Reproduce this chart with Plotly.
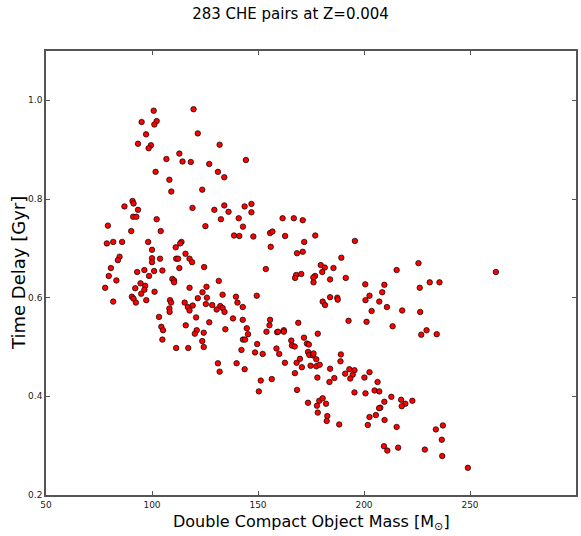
import plotly.graph_objects as go

# 双致密天体质量 [M_sun]
mass = [
    100.8, 95.1, 102.2, 101.1, 97.2, 93.4, 99.5, 98.4, 112.9, 106.8,
    114.4, 101.7, 108.2, 119.6, 121.6, 131.9, 118.3, 127.0, 144.3, 131.1,
    134.1, 123.7, 109.1, 90.8, 91.3, 87.0, 93.4, 91.1, 92.6, 102.2,
    79.2, 90.2, 104.1, 78.7, 81.7, 85.9, 98.2, 113.9, 113.3, 111.2,
    100.0, 115.8, 84.7, 83.9, 100.0, 103.8, 111.4, 112.3, 117.7, 100.0,
    80.6, 112.9, 96.4, 93.0, 101.0, 104.9, 79.6, 98.6, 83.2, 109.6,
    110.4, 110.4, 94.6, 96.8, 77.9, 92.1, 96.4, 117.7, 101.2, 94.9,
    90.5, 91.3, 92.4, 81.7, 97.3, 108.5, 109.0, 115.4, 116.9, 117.7,
    108.2, 108.3, 103.3, 115.9, 104.4, 105.2, 104.9, 111.4, 117.1, 119.1,
    129.4, 134.1, 136.1, 143.7, 146.9, 146.9, 132.5, 140.9, 125.2, 142.9,
    138.7, 141.2, 147.8, 161.6, 166.9, 171.1, 155.7, 156.8, 162.8, 177.0,
    171.8, 156.0, 168.4, 171.1, 118.9, 124.6, 153.7, 179.6, 181.5, 180.3,
    168.0, 170.4, 167.5, 176.9, 176.1, 176.2, 131.5, 125.7, 123.8, 133.3,
    121.6, 125.9, 139.6, 149.4, 119.2, 125.4, 128.4, 132.2, 133.3, 130.5,
    134.2, 140.3, 142.8, 120.8, 138.2, 142.8, 127.0, 121.1, 120.2, 124.4,
    134.6, 144.7, 145.3, 155.7, 155.4, 154.0, 159.0, 159.5, 162.2, 162.2,
    169.0, 178.2, 171.7, 165.7, 166.0, 167.3, 173.1, 174.0, 123.7, 124.4,
    142.9, 143.9, 149.6, 142.2, 158.7, 184.0, 184.0, 148.6, 152.2, 160.0,
    173.6, 174.2, 175.9, 176.2, 169.8, 177.5, 168.2, 162.7, 170.7, 174.8,
    177.5, 179.1, 167.4, 178.0, 184.0, 183.7, 131.1, 139.9, 143.7, 131.9,
    151.3, 156.5, 150.4, 168.4, 173.6, 177.8, 178.9, 180.5, 182.1, 178.2,
    182.7, 182.4, 195.7, 189.3, 185.6, 191.4, 225.7, 215.4, 200.6, 209.6,
    226.3, 231.0, 235.6, 187.4, 187.6, 180.5, 181.6, 202.6, 200.7, 208.6,
    207.2, 210.8, 203.6, 218.0, 226.5, 192.7, 201.2, 213.5, 229.5, 227.0,
    234.3, 189.1, 188.9, 191.1, 193.1, 195.5, 194.7, 193.5, 186.0, 200.2,
    202.6, 206.4, 195.5, 200.7, 205.0, 207.2, 212.9, 217.5, 219.5, 222.8,
    217.8, 209.6, 207.7, 207.1, 205.6, 202.6, 201.8, 209.7, 215.4, 188.3,
    209.4, 211.0, 216.1, 228.7, 233.9, 237.2, 236.7, 236.9, 249.0, 262.2,
]

# 延迟时间 [Gyr]
delay = [
    0.979, 0.956, 0.958, 0.951, 0.931, 0.912, 0.909, 0.903, 0.892, 0.881,
    0.876, 0.855, 0.839, 0.982, 0.933, 0.910, 0.875, 0.871, 0.879, 0.855,
    0.844, 0.819, 0.815, 0.796, 0.791, 0.785, 0.778, 0.764, 0.764, 0.759,
    0.746, 0.735, 0.735, 0.710, 0.713, 0.713, 0.713, 0.713, 0.710, 0.702,
    0.697, 0.689, 0.683, 0.676, 0.680, 0.679, 0.679, 0.679, 0.679, 0.672,
    0.660, 0.660, 0.656, 0.652, 0.654, 0.655, 0.644, 0.644, 0.635, 0.638,
    0.635, 0.631, 0.629, 0.624, 0.620, 0.619, 0.616, 0.620, 0.612, 0.608,
    0.602, 0.598, 0.590, 0.592, 0.595, 0.595, 0.590, 0.590, 0.581, 0.574,
    0.578, 0.571, 0.561, 0.544, 0.541, 0.534, 0.515, 0.498, 0.498, 0.782,
    0.778, 0.787, 0.774, 0.785, 0.790, 0.773, 0.759, 0.761, 0.745, 0.744,
    0.726, 0.725, 0.724, 0.761, 0.761, 0.757, 0.731, 0.734, 0.725, 0.726,
    0.713, 0.703, 0.690, 0.693, 0.672, 0.662, 0.658, 0.666, 0.661, 0.652,
    0.646, 0.648, 0.640, 0.644, 0.641, 0.631, 0.634, 0.622, 0.611, 0.606,
    0.599, 0.600, 0.602, 0.604, 0.584, 0.587, 0.585, 0.583, 0.579, 0.576,
    0.571, 0.590, 0.581, 0.560, 0.558, 0.555, 0.550, 0.534, 0.527, 0.529,
    0.536, 0.538, 0.526, 0.555, 0.544, 0.531, 0.530, 0.531, 0.534, 0.531,
    0.549, 0.527, 0.519, 0.513, 0.503, 0.501, 0.507, 0.505, 0.512, 0.500,
    0.515, 0.515, 0.506, 0.494, 0.497, 0.637, 0.601, 0.489, 0.486, 0.486,
    0.490, 0.484, 0.483, 0.487, 0.476, 0.475, 0.468, 0.468, 0.459, 0.462,
    0.461, 0.464, 0.447, 0.438, 0.456, 0.429, 0.467, 0.467, 0.455, 0.450,
    0.432, 0.435, 0.410, 0.413, 0.387, 0.381, 0.391, 0.396, 0.385, 0.367,
    0.360, 0.350, 0.715, 0.681, 0.660, 0.640, 0.670, 0.656, 0.627, 0.626,
    0.620, 0.631, 0.631, 0.600, 0.596, 0.592, 0.585, 0.604, 0.595, 0.611,
    0.592, 0.581, 0.573, 0.574, 0.571, 0.553, 0.551, 0.542, 0.534, 0.525,
    0.526, 0.485, 0.471, 0.446, 0.455, 0.453, 0.444, 0.436, 0.437, 0.438,
    0.449, 0.429, 0.408, 0.406, 0.412, 0.410, 0.399, 0.393, 0.385, 0.391,
    0.380, 0.389, 0.377, 0.376, 0.362, 0.358, 0.342, 0.352, 0.338, 0.343,
    0.299, 0.290, 0.296, 0.292, 0.333, 0.341, 0.312, 0.279, 0.255, 0.652,
]

x_ticks = [50, 100, 150, 200, 250, 300]
y_ticks = [0.2, 0.4, 0.6, 0.8, 1.0]

fig = go.Figure()

fig.add_trace(go.Scatter(
    x=mass,
    y=delay,
    mode='markers',
    marker=dict(color='red', size=5.5, line=dict(color='black', width=0.7)),
    showlegend=False,
))

axis_style = dict(
    showline=True,
    linecolor='#555555',
    linewidth=1.5,
    mirror='allticks',
    ticks='inside',
    ticklen=4,
    tickcolor='#555555',
    showgrid=False,
    zeroline=False,
    automargin=False,
    tickfont=dict(size=9, color='#222222'),
)

fig.update_layout(
    width=581,
    height=536,
    paper_bgcolor='white',
    plot_bgcolor='white',
    font=dict(family='DejaVu Sans', color='black'),
    title=dict(text='283 CHE pairs at Z=0.004', x=0.5, xanchor='center',
               y=0.985, yanchor='top', pad=dict(t=0), font=dict(size=15)),
    margin=dict(l=46, r=5, t=51, b=41),
    xaxis=dict(range=[50, 300], tickvals=x_ticks, **axis_style),
    yaxis=dict(range=[0.2, 1.1], tickvals=y_ticks, tickformat='.1f', **axis_style),
    annotations=[
        dict(text='Double Compact Object Mass [M<sub>⊙</sub>]', xref='paper', yref='paper',
             x=0.5, y=-0.062, xanchor='center', yanchor='middle', showarrow=False,
             font=dict(size=16)),
        dict(text='Time Delay [Gyr]', xref='paper', yref='paper', textangle=-90,
             x=-0.053, y=0.5, xanchor='center', yanchor='middle', showarrow=False,
             font=dict(size=18)),
    ],
)

# 去掉 body 默认的 8px 边距, 不显示工具栏
fig.write_html("out.html", config={'displayModeBar': False},
               post_script="document.body.style.margin='0';")
